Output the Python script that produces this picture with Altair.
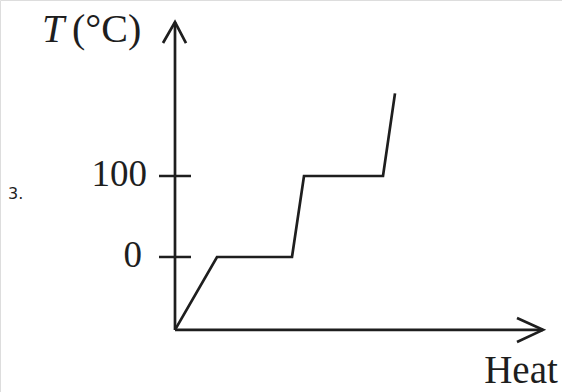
import altair as alt
import pandas as pd

# Heating curve: heat supplied (arbitrary units) vs temperature (°C)
heat = [0.0, 4.2, 11.7, 12.9, 20.8, 22.0]
temp = [-90, 0, 0, 100, 100, 202]

tick_values = [0, 100]
tick_labels = ["0", "100"]

X_DOMAIN = [-17.5, 38.7]
Y_DOMAIN = [-166.7, 317.3]
INK = "#1e1e1e"
SERIF = "Liberation Serif"

xs = alt.Scale(domain=X_DOMAIN, nice=False, zero=False)
ys = alt.Scale(domain=Y_DOMAIN, nice=False, zero=False)


def enc(chart, **kw):
    return chart.encode(
        x=alt.X("h:Q", scale=xs, axis=None),
        y=alt.Y("t:Q", scale=ys, axis=None),
        **kw,
    )


curve = enc(
    alt.Chart(pd.DataFrame({"h": heat, "t": temp, "o": range(len(heat))}))
    .mark_line(color=INK, strokeWidth=2.7, strokeJoin="miter"),
    order="o:O",
)

# Axis lines with open arrowheads
axis_paths = pd.DataFrame({
    "g": ["yax"] * 2 + ["xax"] * 2 + ["yhead"] * 3 + ["xhead"] * 3,
    "h": [0, 0, 0, 36.8,
          -1.2, 0, 1.1,
          34.2, 36.8, 34.2],
    "t": [-90, 290.1, -90, -90,
          264.2, 290.1, 264.2,
          -75.3, -90, -104.9],
    "o": [0, 1, 0, 1, 0, 1, 2, 0, 1, 2],
})
axes = enc(
    alt.Chart(axis_paths).mark_line(color=INK, strokeWidth=2.7),
    detail="g:N",
    order="o:O",
)

ticks_df = pd.DataFrame({"t": tick_values, "label": tick_labels,
                         "h1": [-1.6] * 2, "h2": [1.6] * 2, "hl": [-3.3, -2.8]})
ticks = alt.Chart(ticks_df).mark_rule(color=INK, strokeWidth=2.5).encode(
    x=alt.X("h1:Q", scale=xs, axis=None),
    x2="h2:Q",
    y=alt.Y("t:Q", scale=ys, axis=None),
)
tick_text = alt.Chart(ticks_df).mark_text(
    font=SERIF, fontSize=37, color=INK, align="right", baseline="alphabetic", dy=10
).encode(
    x=alt.X("hl:Q", scale=xs, axis=None),
    y=alt.Y("t:Q", scale=ys, axis=None),
    text="label:N",
)

labels_df = pd.DataFrame({
    "h": [-13.3, -10.3, 34.6, -16.7],
    "t": [265.4, 265.4, -155.6, 71.6],
    "text": ["T", "(°C)", "Heat", "3."],
})


def label(i, **kw):
    return enc(alt.Chart(labels_df.iloc[[i]]).mark_text(color=INK, baseline="alphabetic", **kw),
               text="text:N")


t_label = label(0, font=SERIF, fontSize=40, fontStyle="italic", align="left")
unit_label = label(1, font=SERIF, fontSize=40, align="left")
heat_label = label(2, font=SERIF, fontSize=39, align="center")
num_label = label(3, font="DejaVu Sans", fontSize=16, align="left")

chart = (
    alt.layer(axes, ticks, curve, tick_text, t_label, unit_label, heat_label, num_label)
    .properties(width=562, height=392, padding=0,
                autosize=alt.AutoSizeParams(type="none"))
    .configure_view(stroke=None)
    .configure(background="white")
)

chart.save("out.html", embed_options={"renderer": "svg", "actions": False})
